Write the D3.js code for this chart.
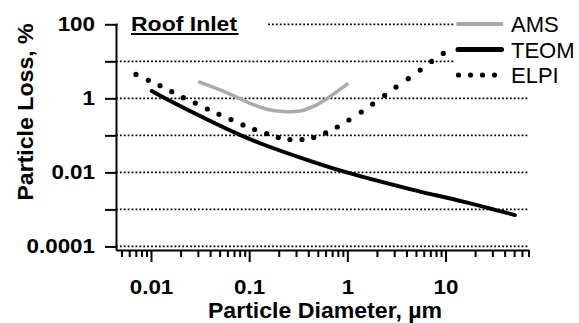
<!DOCTYPE html>
<html>
<head>
<meta charset="utf-8">
<script src="https://cdn.jsdelivr.net/npm/d3@7"></script>
<style>
  body { margin: 0; background: #fff; }
  svg { display: block; font-family: "Liberation Sans", Arial, Helvetica, sans-serif; }
</style>
</head>
<body>
<div id="root"></div>
<script>
// particle diameter (µm) and loss (%)
const amsDiameter = [0.0303, 0.059, 0.102, 0.151, 0.222, 0.329, 0.486, 0.718, 1.02]
const amsLoss = [2.82, 1.43, 0.733, 0.506, 0.438, 0.455, 0.668, 1.28, 2.53]

const teomDiameter = [0.0102, 0.0139, 0.0369, 0.0805, 0.129, 0.416, 0.908, 4.34, 15.1, 50.9]
const teomLoss = [1.57, 1.0, 0.272, 0.1026, 0.0612, 0.0204, 0.0106, 0.00353, 0.00162, 0.000702]

const elpiDiameter = [0.00703, 0.00939, 0.01236, 0.01626, 0.02133, 0.02826, 0.03743, 0.0492, 0.0653,
    0.0865, 0.1138, 0.1507, 0.1977, 0.26, 0.345, 0.454, 0.601, 0.789, 1.037, 1.385, 1.81, 2.4,
    3.13, 4.17, 5.52, 7.21, 9.48]
const elpiLoss = [4.43, 3.06, 2.2, 1.51, 1.04, 0.747, 0.515, 0.371, 0.267,
    0.191, 0.143, 0.112, 0.0873, 0.0771, 0.0771, 0.0873, 0.116, 0.168, 0.26, 0.427, 0.702, 1.2,
    2.02, 3.4, 5.79, 9.94, 16.3]

const yTicks = [100, 10, 1, 0.1, 0.01, 0.001, 0.0001]
const yTickLabels = ['100', '', '1', '', '0.01', '', '0.0001']
const xMajorTicks = [0.01, 0.1, 1, 10]
const xTickLabels = ['0.01', '0.1', '1', '10']

const seriesNames = ['AMS', 'TEOM', 'ELPI']

const WIDTH = 579
const HEIGHT = 323
const PLOT_LEFT = 116
const PLOT_RIGHT = 528.5
const PLOT_TOP = 24.3
const PLOT_BOTTOM = 250

const svg = d3.select('#root')
    .append('svg')
    .attr('width', WIDTH)
    .attr('height', HEIGHT)

const xScale = d3.scaleLog()
    .domain([0.0044, 70])
    .range([PLOT_LEFT, PLOT_RIGHT])

const yScale = d3.scaleLog()
    .domain([0.00008, 100])
    .range([PLOT_BOTTOM, PLOT_TOP])

// the bold face in the original is a bit wider than Liberation Sans Bold
const widen = (sel, k) => sel.each(function () {
    const w = this.getComputedTextLength()
    d3.select(this).attr('textLength', w * k).attr('lengthAdjust', 'spacingAndGlyphs')
})

// dotted grid lines at each decade
svg.append('g')
    .selectAll('line')
    .data(yTicks)
    .enter()
    .append('line')
    .attr('x1', PLOT_LEFT)
    .attr('x2', PLOT_RIGHT)
    .attr('y1', d => yScale(d))
    .attr('y2', d => yScale(d))
    .attr('stroke', '#000')
    .attr('stroke-width', 1.8)
    .attr('stroke-dasharray', '1.8 2.1')

// white boxes behind title and legend, they hide the grid like in the original
svg.append('rect')
    .attr('x', PLOT_LEFT + 2).attr('y', 8)
    .attr('width', 148).attr('height', 30)
    .attr('fill', '#fff')
svg.append('rect')
    .attr('x', 455).attr('y', 0)
    .attr('width', WIDTH - 455).attr('height', 88)
    .attr('fill', '#fff')

// axes
const minorTicks = xScale.ticks().filter(t => !xMajorTicks.some(m => Math.abs(m - t) / m < 1e-6))

const xMinor = svg.append('g')
    .attr('transform', `translate(0,${PLOT_BOTTOM})`)
    .call(d3.axisBottom(xScale).tickValues(minorTicks).tickSize(7).tickSizeOuter(0).tickFormat(''))
xMinor.select('.domain').remove()

svg.append('g')
    .attr('transform', `translate(0,${PLOT_BOTTOM})`)
    .call(d3.axisBottom(xScale)
        .tickValues(xMajorTicks)
        .tickSize(12)
        .tickSizeOuter(0)
        .tickPadding(18)
        .tickFormat((d, i) => xTickLabels[i]))

svg.append('g')
    .attr('transform', `translate(${PLOT_LEFT},0)`)
    .call(d3.axisLeft(yScale)
        .tickValues(yTicks)
        .tickSize(11)
        .tickSizeOuter(0)
        .tickPadding(10)
        .tickFormat((d, i) => yTickLabels[i]))

svg.selectAll('.domain').attr('stroke-width', 2)
svg.selectAll('.tick line').attr('stroke-width', 2)
svg.selectAll('.tick text')
    .attr('font-size', 20)
    .attr('font-weight', 'bold')
    .attr('font-family', '"Liberation Sans", Arial, sans-serif')
    .attr('fill', '#000')
    .call(widen, 1.12)

// data
const line = d3.line()
    .x(d => xScale(d[0]))
    .y(d => yScale(d[1]))
    .curve(d3.curveCatmullRom)

svg.append('path')
    .datum(d3.zip(amsDiameter, amsLoss))
    .attr('d', line)
    .attr('fill', 'none')
    .attr('stroke', '#aaaaaa')
    .attr('stroke-width', 3.5)

svg.append('path')
    .datum(d3.zip(teomDiameter, teomLoss))
    .attr('d', line)
    .attr('fill', 'none')
    .attr('stroke', '#000')
    .attr('stroke-width', 4)
    .attr('stroke-linecap', 'round')

svg.append('g')
    .selectAll('circle')
    .data(d3.zip(elpiDiameter, elpiLoss))
    .enter()
    .append('circle')
    .attr('cx', d => xScale(d[0]))
    .attr('cy', d => yScale(d[1]))
    .attr('r', 2.6)
    .attr('fill', '#000')

// title
svg.append('text')
    .attr('x', 131)
    .attr('y', 31)
    .attr('font-size', 20)
    .attr('font-weight', 'bold')
    .text('Roof Inlet')
    .call(widen, 1.15)
svg.append('line')
    .attr('x1', 131).attr('x2', 238.5)
    .attr('y1', 34).attr('y2', 34)
    .attr('stroke', '#000')
    .attr('stroke-width', 2)

// legend
const legend = svg.append('g')
    .selectAll('g')
    .data(seriesNames)
    .enter()
    .append('g')
    .attr('transform', (d, i) => `translate(0,${24 + i * 25.5})`)

legend.append('text')
    .attr('x', 511)
    .attr('y', 8)
    .attr('font-size', 22)
    .text(d => d)

legend.filter(d => d !== 'ELPI')
    .append('line')
    .attr('x1', 458).attr('x2', 501.5)
    .attr('stroke', d => d === 'AMS' ? '#aaaaaa' : '#000')
    .attr('stroke-width', d => d === 'AMS' ? 4 : 5)
    .attr('stroke-linecap', 'round')

legend.filter(d => d === 'ELPI')
    .selectAll('circle')
    .data([0, 1, 2, 3])
    .enter()
    .append('circle')
    .attr('cx', i => 458.5 + i * 12)
    .attr('cy', 0)
    .attr('r', 2.6)

// axis titles
svg.append('text')
    .attr('x', 325)
    .attr('y', 318)
    .attr('text-anchor', 'middle')
    .attr('font-size', 22)
    .attr('font-weight', 'bold')
    .text('Particle Diameter, µm')
    .call(widen, 1.05)

svg.append('text')
    .attr('transform', 'translate(33,112) rotate(-90)')
    .attr('text-anchor', 'middle')
    .attr('font-size', 22)
    .attr('font-weight', 'bold')
    .text('Particle Loss, %')
    .call(widen, 1.05)
</script>
</body>
</html>
